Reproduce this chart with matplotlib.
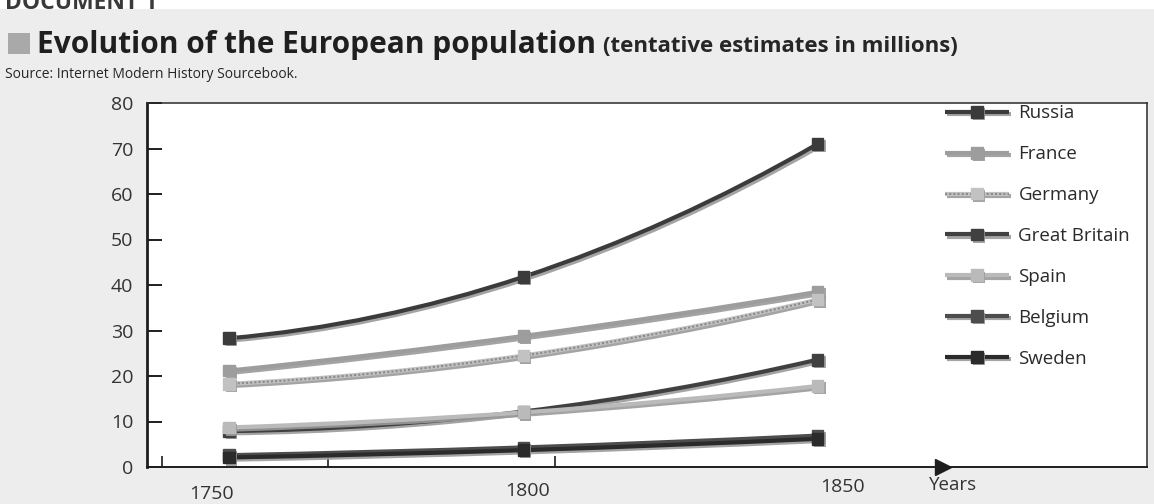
import numpy as np
import matplotlib
matplotlib.use("Agg")
import matplotlib.pyplot as plt
from matplotlib.path import Path
from matplotlib.patches import PathPatch, Rectangle
from matplotlib.lines import Line2D
import matplotlib.patheffects as pe
from matplotlib.transforms import ScaledTranslation

# ---- data (population, millions) ----
years = [1750, 1800, 1850]
countries = ["Russia", "France", "Germany", "Great Britain", "Spain", "Belgium", "Sweden"]
russia = [28.3, 41.8, 71.0]
france = [21.2, 28.8, 38.5]
germany = [18.3, 24.5, 36.8]
great_britain = [7.9, 12.2, 23.6]
spain = [8.7, 12.0, 17.8]
belgium = [2.6, 4.3, 6.9]
sweden = [2.1, 3.7, 6.2]
y_ticks = [0, 10, 20, 30, 40, 50, 60, 70, 80]
x_tick_labels = ["1750", "1800", "1850"]

series = [russia, france, germany, great_britain, spain, belgium, sweden]
colors = ["#3b3b3b", "#9d9d9d", "#c2c2c2", "#404040", "#bababa", "#4d4d4d", "#2b2b2b"]
dotted = [False, False, True, False, False, False, False]

W, H = 1154, 504
NUM_FONT = ["Liberation Sans Narrow", "Open Sans"]
fig = plt.figure(figsize=(W / 100, H / 100), dpi=100)
fig.patch.set_facecolor("#ededed")
fig.patches.append(Rectangle((0, 1 - 9 / H), 1, 9 / H, transform=fig.transFigure,
                             facecolor="white", edgecolor="none", zorder=0))

ax = fig.add_axes([147 / W, 37 / H, 1000 / W, 364 / H])
ax.set_facecolor("white")
ax.set_xlim(1736, 1906)
ax.set_ylim(0, 80)

line_fx = [pe.SimpleLineShadow(offset=(1.5, -1.6), shadow_color="#9a9a9a", alpha=0.9),
           pe.Normal()]
mark_fx = [pe.SimplePatchShadow(offset=(1.5, -1.6), shadow_rgbFace="#9a9a9a", alpha=0.9),
           pe.Normal()]


def smooth_path(xs, ys):
    """Cubic Bezier path through the points with smooth tangents."""
    pts = np.column_stack([xs, ys]).astype(float)
    n = len(pts)
    tang = np.zeros_like(pts)
    for i in range(1, n - 1):
        tang[i] = (pts[i + 1] - pts[i - 1]) / 2
    tang[0] = 2 * (pts[1] - pts[0]) - tang[1]
    tang[-1] = 2 * (pts[-1] - pts[-2]) - tang[-2]
    verts = [pts[0]]
    codes = [Path.MOVETO]
    for i in range(n - 1):
        verts += [pts[i] + tang[i] / 3, pts[i + 1] - tang[i + 1] / 3, pts[i + 1]]
        codes += [Path.CURVE4] * 3
    return Path(verts, codes)


for vals, col, dot in zip(series, colors, dotted):
    path = smooth_path(years, vals)
    ax.add_patch(PathPatch(path, fill=False, edgecolor=col, lw=3.0,
                           capstyle="butt", path_effects=line_fx, zorder=3))
    if dot:
        ax.add_patch(PathPatch(path, fill=False, edgecolor="#8a8a8a", lw=1.5,
                               linestyle=(0, (1, 1)), zorder=3.1))
    ax.plot(years, vals, ls="none", marker="s", ms=8.5, mfc=col, mec=col,
            path_effects=mark_fx, zorder=4)

# ---- axes styling ----
for side in ["top", "right"]:
    ax.spines[side].set_linewidth(1.1)
    ax.spines[side].set_color("#2a2a2a")
ax.spines["left"].set_linewidth(2.0)
ax.spines["left"].set_color("#1e1e1e")
ax.spines["bottom"].set_linewidth(1.4)
ax.spines["bottom"].set_color("#1e1e1e")

ax.set_yticks(y_ticks)
ax.set_yticklabels([str(v) for v in y_ticks])
ax.tick_params(axis="y", direction="in", length=11, width=1.4, color="#1e1e1e",
               pad=10, labelsize=14, labelcolor="#333333")
for lab in ax.get_yticklabels():
    lab.set_family(NUM_FONT)

ax.set_xticks(years)
ax.set_xticklabels(x_tick_labels)
ax.tick_params(axis="x", length=0, pad=13, labelsize=14, labelcolor="#333333")
shifts = [(-18, 0), (4, 3), (25, 7)]
for lab, (dx, dy) in zip(ax.get_xticklabels(), shifts):
    lab.set_family(NUM_FONT)
    lab.set_transform(lab.get_transform()
                      + ScaledTranslation(dx / 100, dy / 100, fig.dpi_scale_trans))

ax.set_xticks([1738.5, 1766.8, 1805.3], minor=True)
ax.tick_params(axis="x", which="minor", direction="in", length=8, width=1.2,
               color="#1e1e1e")

# arrow head on the time axis
ax.plot([0.796], [0], transform=ax.transAxes, marker=">", ms=12, mfc="#1e1e1e",
        mec="#1e1e1e", clip_on=False, zorder=5)
ax.text(0.782, -0.025, "Years", transform=ax.transAxes, ha="left", va="top",
        fontsize=13.5, color="#333333", family=NUM_FONT)

# ---- legend ----
handles = []
for col, dot in zip(colors, dotted):
    parts = [Line2D([], [], color=col, lw=3.0, solid_capstyle="butt", path_effects=line_fx)]
    if dot:
        parts.append(Line2D([], [], color="#8a8a8a", lw=1.5, linestyle=(0, (1, 1))))
    parts.append(Line2D([], [], ls="none", marker="s", ms=8.5, mfc=col, mec=col,
                        path_effects=mark_fx))
    handles.append(tuple(parts))
leg = fig.legend(handles, countries, loc="upper left", bbox_to_anchor=(936 / W, 1 - 95 / H),
                 frameon=False, handlelength=3.4, handletextpad=0.5, labelspacing=1.22,
                 borderpad=0, prop={"family": "Open Sans", "size": 13.5})
for t in leg.get_texts():
    t.set_color("#2a2a2a")

# ---- heading ----
fig.text(5 / W, 1 - 9 / H, "DOCUMENT 1", fontsize=16.5, fontweight="bold",
         family="Open Sans", color="#3a3a3a", va="baseline")
fig.patches.append(Rectangle((8 / W, 1 - 54 / H), 22 / W, 21 / H, transform=fig.transFigure,
                             facecolor="#a9a9a9", edgecolor="none"))
title = fig.text(37 / W, 1 - 53 / H, "Evolution of the European population", fontsize=21.5,
                 fontweight="bold", family="Open Sans", color="#1f1f1f", va="baseline")
ax.annotate("(tentative estimates in millions)", xy=(1, 0), xycoords=title,
            xytext=(5, 2.5), textcoords="offset points", fontsize=16, fontweight="bold",
            family="Open Sans", color="#262626", va="bottom", ha="left",
            annotation_clip=False)
fig.text(5 / W, 1 - 78 / H, "Source: Internet Modern History Sourcebook.", fontsize=10,
         family="Open Sans", color="#262626", va="baseline")

fig.savefig("out.png", dpi=100, facecolor=fig.get_facecolor())
